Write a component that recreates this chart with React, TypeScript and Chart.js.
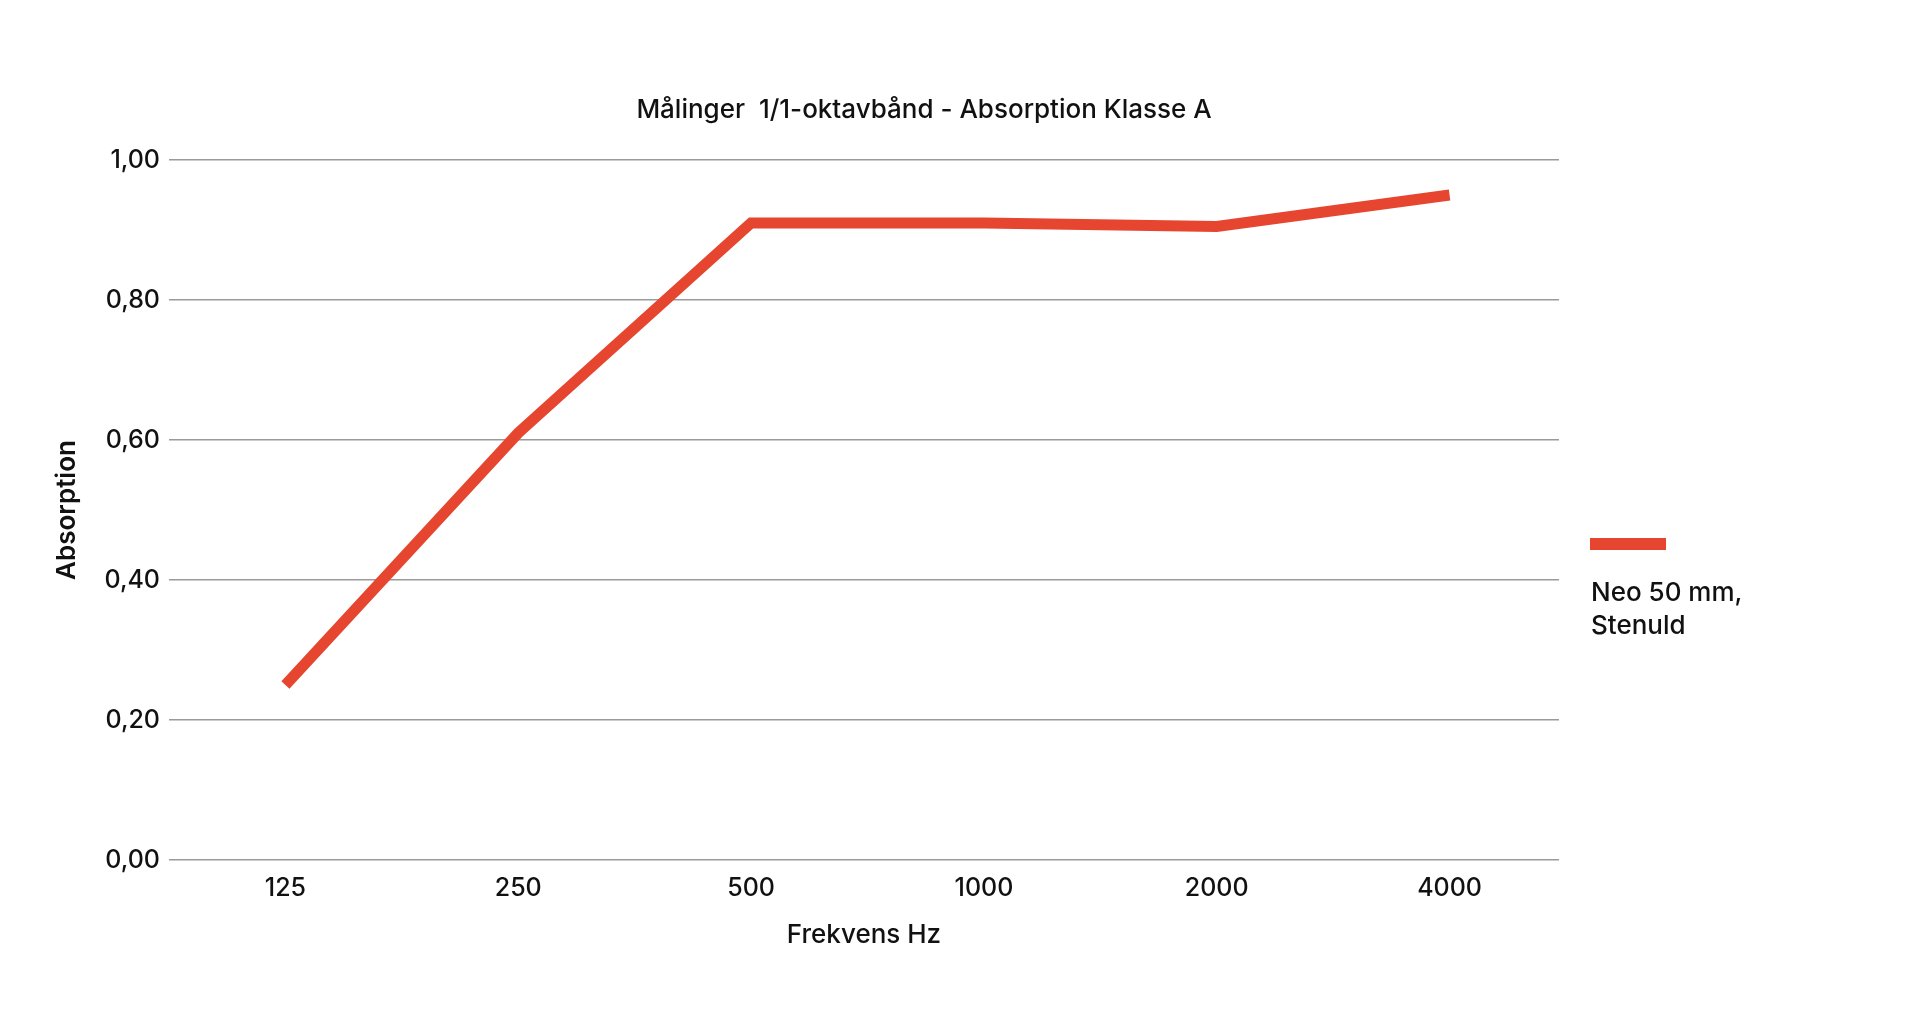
import { useEffect, useRef } from "react";
import { Chart, registerables } from "chart.js";

Chart.register(...registerables);

const chartTitle = "Målinger  1/1-oktavbånd - Absorption Klasse A";
const frequencies = ["125", "250", "500", "1000", "2000", "4000"];
const absorption = [0.25, 0.61, 0.91, 0.91, 0.905, 0.95];
const seriesLabel = ["Neo 50 mm,", "Stenuld"];
const yTicks = [0, 0.2, 0.4, 0.6, 0.8, 1.0];

const RED = "#e6462f";
const FONT = "Inter, 'Noto Sans', sans-serif";

// title + side legend drawn by hand, the layout in the picture is not the stock one
const sideDecor = {
  id: "sideDecor",
  afterDraw(chart: any) {
    const { ctx, chartArea } = chart;
    ctx.save();
    ctx.fillStyle = "#111";
    ctx.font = `500 26px ${FONT}`;
    ctx.textAlign = "center";
    ctx.textBaseline = "middle";
    ctx.fillText(chartTitle, 924, chartArea.top - 50);

    const lx = chartArea.right + 31;
    const ds = chart.data.datasets[0];
    ctx.fillStyle = ds.borderColor;
    ctx.fillRect(lx, chartArea.top + 378, 76, 12);
    ctx.fillStyle = "#111";
    ctx.textAlign = "left";
    (ds.label as string[]).forEach((line, i) => {
      ctx.fillText(line, lx + 1, chartArea.top + 433 + i * 33);
    });
    ctx.restore();
  },
};

export default function App() {
  const chartRef = useRef<HTMLCanvasElement>(null);
  const chartInstance = useRef<Chart | null>(null);

  useEffect(() => {
    document.body.style.margin = "0";
    if (!chartRef.current) return;
    const ctx = chartRef.current.getContext("2d");
    if (!ctx) return;

    if (chartInstance.current) {
      chartInstance.current.destroy();
    }

    chartInstance.current = new Chart(ctx, {
      type: "line",
      data: {
        datasets: [
          {
            label: seriesLabel as any,
            data: absorption.map((y, i) => ({ x: i, y })),
            borderColor: RED,
            backgroundColor: RED,
            borderWidth: 11,
            borderCapStyle: "butt",
            borderJoinStyle: "miter",
            tension: 0,
            pointRadius: 0,
            fill: false,
          },
        ],
      },
      options: {
        responsive: true,
        maintainAspectRatio: false,
        animation: false,
        layout: {
          padding: { left: 50, right: 361, top: 160, bottom: 59 },
        },
        plugins: {
          legend: { display: false },
          title: { display: false },
          tooltip: { enabled: false },
        },
        scales: {
          x: {
            type: "linear",
            min: -0.5,
            max: 5.47,
            afterBuildTicks: (scale: any) => {
              scale.ticks = frequencies.map((_, i) => ({ value: i }));
            },
            grid: { display: false, drawTicks: false },
            border: { display: false },
            ticks: {
              color: "#111",
              padding: 13,
              font: { family: FONT, size: 25, weight: 500 },
              callback: (value: any) => frequencies[value] ?? "",
            },
            title: {
              display: true,
              text: "Frekvens Hz",
              color: "#111",
              padding: { top: 0, bottom: 9 },
              font: { family: FONT, size: 26, weight: 500 },
            },
            afterFit: (scale: any) => {
              scale.height = 100;
            },
          },
          y: {
            min: 0,
            max: 1,
            afterBuildTicks: (scale: any) => {
              scale.ticks = yTicks.map((v) => ({ value: v }));
            },
            grid: { color: "#9a9a9a", lineWidth: 1.4, drawTicks: false },
            border: { display: false },
            ticks: {
              color: "#111",
              padding: 9,
              font: { family: FONT, size: 25, weight: 500 },
              callback: (value: any) => Number(value).toFixed(2).replace(".", ","),
            },
            title: {
              display: true,
              text: "Absorption",
              color: "#111",
              padding: { top: 2, bottom: 0 },
              font: { family: FONT, size: 26, weight: 600 },
            },
            afterFit: (scale: any) => {
              scale.width = 119;
            },
          },
        },
      },
      plugins: [sideDecor],
    });

    return () => {
      if (chartInstance.current) {
        chartInstance.current.destroy();
        chartInstance.current = null;
      }
    };
  }, []);

  return (
    <div style={{ position: "relative", width: "100vw", height: "100vh", background: "#fff" }}>
      <canvas ref={chartRef}></canvas>
    </div>
  );
}
